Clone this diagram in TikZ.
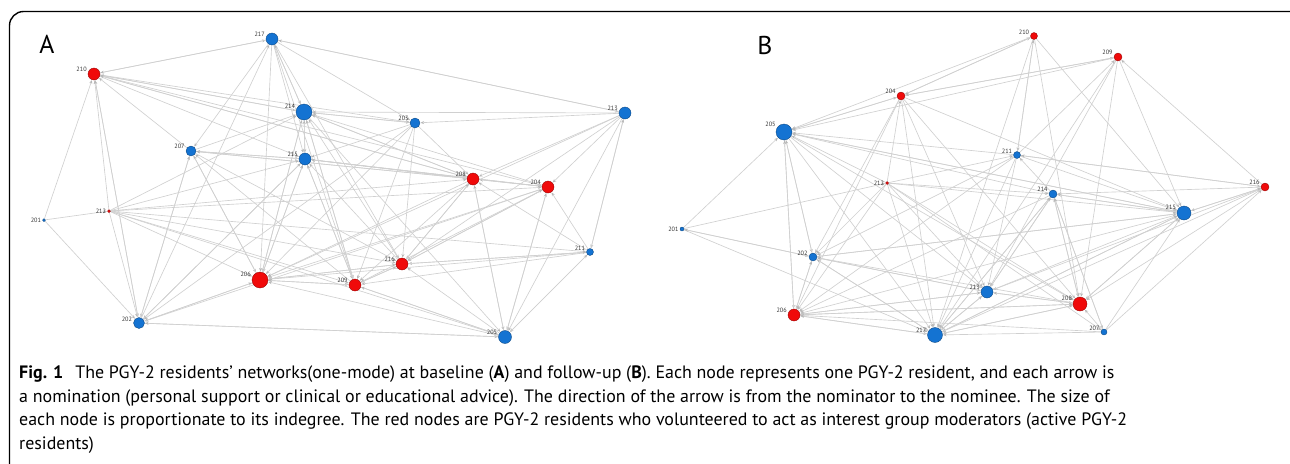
\documentclass[tikz,border=0pt]{standalone}
\usepackage{fontspec}
\setmainfont{PT Sans}
\usetikzlibrary{arrows.meta,backgrounds}
\definecolor{R}{RGB}{240, 10, 10}
\definecolor{B}{RGB}{20, 115, 210}
\definecolor{E}{RGB}{208, 208, 208}

\tikzset{
  bnode/.style={circle, inner sep=0pt, fill=B, draw=B!60!black, line width=0.3pt, minimum size=#1*0.03cm},
  rnode/.style={circle, inner sep=0pt, fill=R, draw=R!60!black, line width=0.3pt, minimum size=#1*0.03cm},
  lbl/.style={font=\fontsize{5.3}{6}\selectfont, text=black!80, inner sep=0.5pt, label distance=0.5pt},
  edge/.style={draw=E, line width=0.55pt, -{Stealth[length=3pt, width=2.6pt, color=black!28]}, shorten >=0.3pt},
}

\begin{document}
\begin{tikzpicture}[x=0.03cm, y=-0.03cm]
    \useasboundingbox (0,0) rectangle (1290,463);
    % frame
    \draw[line width=1.2pt, rounded corners=12] (9.5,470) -- (9.5,11.5) -- (1300,11.5);

    % panel letters
    \node[font=\fontsize{22}{22}\selectfont] (labA) at (47,44) {A};
    \node[font=\fontsize{22}{22}\selectfont] (labB) at (765,45) {B};

    %Red nodes volunteered moderators, blue the others
    %Panel A (baseline)
    \node[bnode=12, label={[lbl]165:217}] (a217) at (272,39) {};
    \node[rnode=12, label={[lbl]165:210}] (a210) at (94,74) {};
    \node[bnode=16, label={[lbl]160:214}] (a214) at (304,112) {};
    \node[bnode=10, label={[lbl]165:203}] (a203) at (415,123) {};
    \node[bnode=12, label={[lbl]165:213}] (a213) at (625,113) {};
    \node[bnode=10, label={[lbl]165:207}] (a207) at (191,151) {};
    \node[bnode=12, label={[lbl]165:215}] (a215) at (305,159) {};
    \node[rnode=12, label={[lbl]165:208}] (a208) at (473,179) {};
    \node[rnode=12, label={[lbl]165:204}] (a204) at (548,187) {};
    \node[rnode=3, label={[lbl]180:212}] (a212) at (109,211) {};
    \node[bnode=3, label={[lbl]180:201}] (a201) at (44,220) {};
    \node[bnode=7, label={[lbl]170:211}] (a211) at (590,252) {};
    \node[rnode=12, label={[lbl]165:216}] (a216) at (402,264) {};
    \node[rnode=16, label={[lbl]165:206}] (a206) at (260,280) {};
    \node[rnode=12, label={[lbl]170:209}] (a209) at (355,285) {};
    \node[bnode=11, label={[lbl]170:202}] (a202) at (139,323) {};
    \node[bnode=13, label={[lbl]170:205}] (a205) at (505,337) {};

    \begin{scope}[on background layer]
    \foreach \s/\t in {210/217, 210/214, 210/215, 210/203, 210/208, 210/204, 210/202,
        217/210, 217/214, 217/215, 217/203, 217/213, 217/207, 217/206, 217/209, 217/216,
        214/217, 214/210, 214/215, 214/203, 214/208, 214/206, 214/209, 214/205,
        203/214, 203/215, 203/208, 203/216, 203/209, 203/206, 203/202,
        213/217, 213/214, 213/203, 213/208, 213/204, 213/216, 213/206, 213/211, 213/205,
        207/214, 207/215, 207/208, 207/210, 207/206, 207/202, 207/216,
        215/214, 215/207, 215/208, 215/204, 215/206, 215/209, 215/202,
        208/214, 208/215, 208/204, 208/207, 208/206, 208/216, 208/209, 208/205, 208/210,
        204/208, 204/214, 204/215, 204/206, 204/216, 204/209, 204/202, 204/205,
        212/210, 212/202, 212/214, 212/215, 212/208, 212/204, 212/211, 212/216, 212/206, 212/209, 212/205,
        201/210, 201/212, 201/202,
        211/204, 211/208, 211/216, 211/209, 211/206, 211/205, 211/213,
        216/208, 216/204, 216/214, 216/215, 216/206, 216/209, 216/211,
        206/214, 206/215, 206/207, 206/216, 206/202, 206/209,
        209/206, 209/214, 209/216, 209/205, 209/215, 209/207,
        202/206, 202/207, 202/210, 202/217, 202/205, 202/215,
        205/216, 205/209, 205/204, 205/211, 205/208, 205/206, 205/202}
      \draw[edge] (a\s) -- (a\t);
    \end{scope}

    %Panel B (follow-up)
    \node[rnode=7, label={[lbl]165:210}] (b210) at (1034,36) {};
    \node[rnode=8, label={[lbl]165:209}] (b209) at (1118,57) {};
    \node[rnode=8, label={[lbl]165:204}] (b204) at (901,96) {};
    \node[bnode=16, label={[lbl]150:205}] (b205) at (784,132) {};
    \node[bnode=7, label={[lbl]165:211}] (b211) at (1017,155) {};
    \node[rnode=3, label={[lbl]180:212}] (b212) at (887,183) {};
    \node[rnode=8, label={[lbl]165:216}] (b216) at (1265,187) {};
    \node[bnode=8, label={[lbl]165:214}] (b214) at (1053,194) {};
    \node[bnode=14, label={[lbl]160:215}] (b215) at (1184,213) {};
    \node[bnode=4, label={[lbl]180:201}] (b201) at (682,229) {};
    \node[bnode=8, label={[lbl]170:202}] (b202) at (813,257) {};
    \node[bnode=12, label={[lbl]165:213}] (b213) at (987,292) {};
    \node[rnode=14, label={[lbl]160:208}] (b208) at (1080,304) {};
    \node[rnode=12, label={[lbl]165:206}] (b206) at (794,315) {};
    \node[bnode=15, label={[lbl]165:217}] (b217) at (935,335) {};
    \node[bnode=6, label={[lbl]170:207}] (b207) at (1104,332) {};

    \begin{scope}[on background layer]
    \foreach \s/\t in {205/204, 205/202, 205/206, 205/213, 205/215, 205/217, 205/208,
        204/205, 204/210, 204/209, 204/213, 204/217, 204/208, 204/202, 204/206, 204/215,
        210/204, 210/205, 210/211, 210/217, 210/215, 210/208,
        209/204, 209/205, 209/213, 209/208, 209/215, 209/217,
        211/205, 211/210, 211/209, 211/202, 211/217, 211/213, 211/206, 211/215, 211/216,
        212/205, 212/204, 212/211, 212/214, 212/215, 212/202, 212/206, 212/217, 212/213, 212/208, 212/207,
        216/214, 216/215, 216/211, 216/208, 216/217, 216/213, 216/209,
        214/205, 214/211, 214/215, 214/213, 214/217, 214/208, 214/207, 214/206,
        215/216, 215/214, 215/202, 215/206, 215/217, 215/208, 215/205,
        201/205, 201/212, 201/202, 201/217,
        202/205, 202/206, 202/215, 202/213, 202/217, 202/201,
        213/202, 213/215, 213/217, 213/208, 213/206, 213/214,
        208/215, 208/214, 208/217, 208/213, 208/206, 208/202,
        206/205, 206/202, 206/217, 206/208, 206/213,
        217/213, 217/206, 217/208, 217/215, 217/214, 217/202,
        207/217, 207/208, 207/215, 207/216, 207/214, 207/206}
      \draw[edge] (b\s) -- (b\t);
    \end{scope}

    % caption
    \begin{scope}[every node/.style={anchor=west, inner sep=0pt, font=\fontsize{15.3}{16}\selectfont}]
      \node (cap1) at (19,374) {\textbf{Fig. 1}\hspace{0.4em} The PGY-2 residents’ networks(one-mode) at baseline (\textbf{A}) and follow-up (\textbf{B}). Each node represents one PGY-2 resident, and each arrow is};
      \node (cap2) at (19,398) {a nomination (personal support or clinical or educational advice). The direction of the arrow is from the nominator to the nominee. The size of};
      \node (cap3) at (19,421) {each node is proportionate to its indegree. The red nodes are PGY-2 residents who volunteered to act as interest group moderators (active PGY-2};
      \node (cap4) at (19,445) {residents)};
    \end{scope}
\end{tikzpicture}
\end{document}
